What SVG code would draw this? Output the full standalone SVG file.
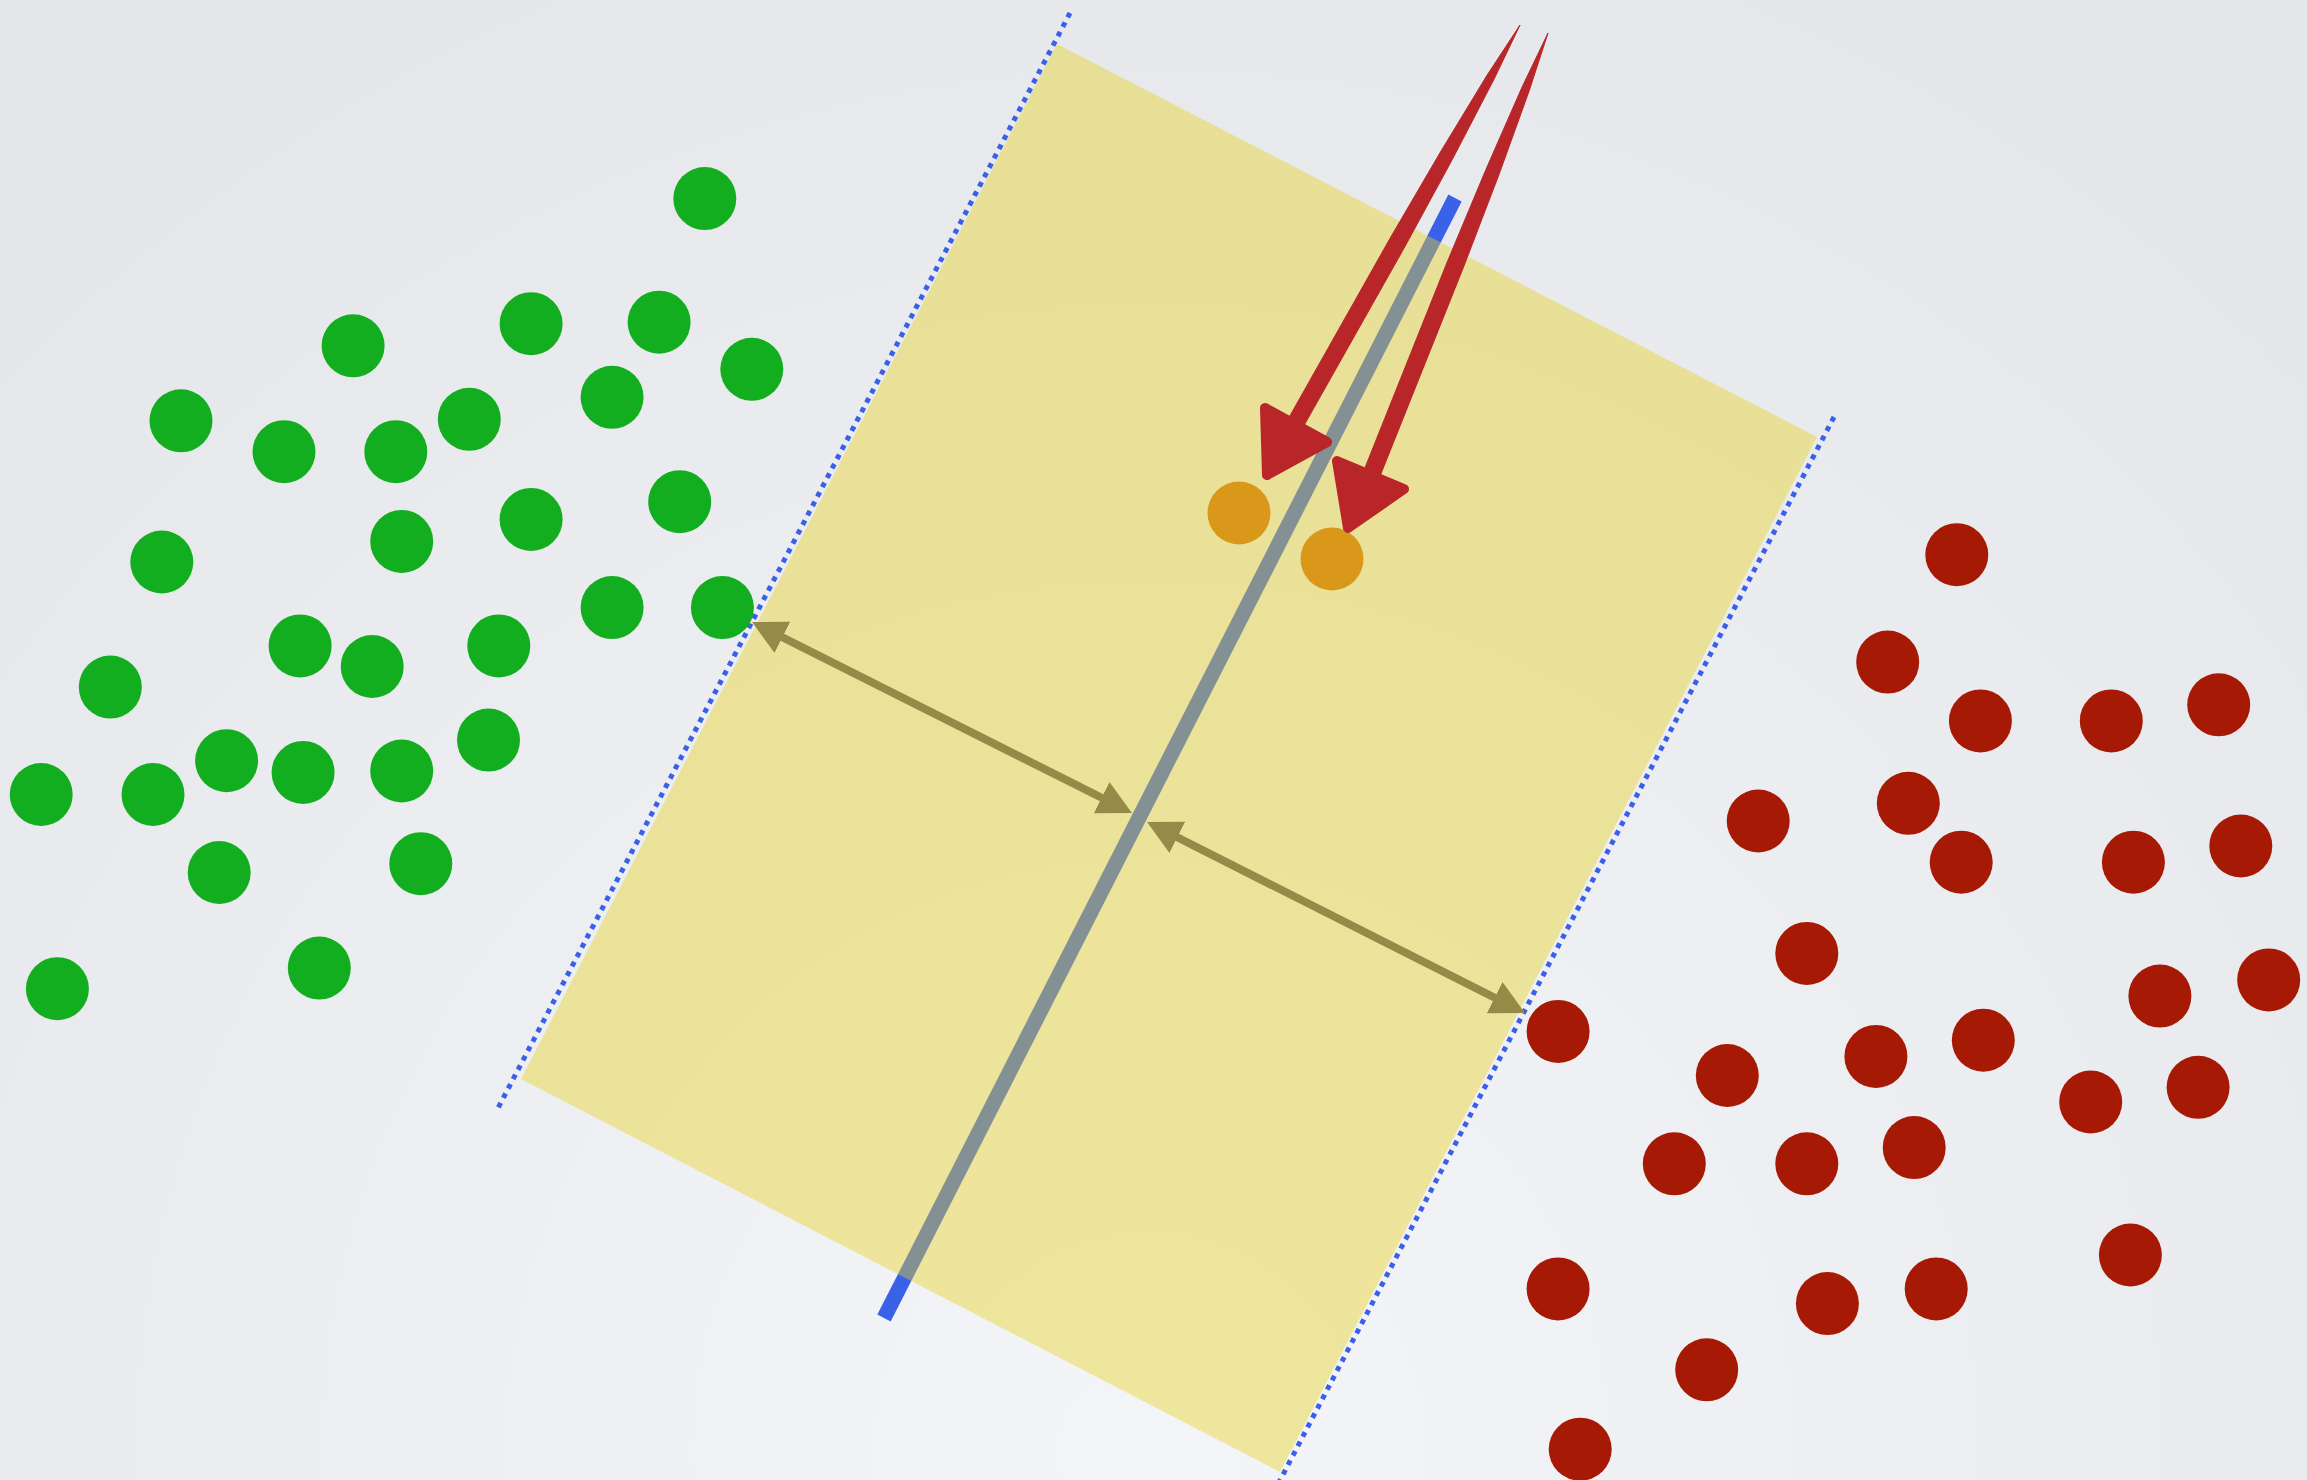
<svg xmlns="http://www.w3.org/2000/svg" width="2307" height="1480" viewBox="0 0 2307 1480">
<defs>
<radialGradient id="bg" cx="1150" cy="1450" r="1700" gradientUnits="userSpaceOnUse">
<stop offset="0" stop-color="#f4f5f8"/>
<stop offset="1" stop-color="#e4e6e9"/>
</radialGradient>
<marker id="olive" viewBox="0 0 34 35" refX="14" refY="17.5" markerWidth="34" markerHeight="35" markerUnits="userSpaceOnUse" orient="auto-start-reverse">
<path d="M0,0 L34,17.5 L0,35 Z" fill="#968a48"/>
</marker>
<style>
.g{fill:#13ae1f}
.r{fill:#a61a05}
.o{fill:#d9981a}
.dot{fill:none;stroke:#3a60e8;stroke-width:5;stroke-dasharray:5 5.6}
.dist{fill:none;stroke:#968a48;stroke-width:8;marker-start:url(#olive);marker-end:url(#olive)}
.red{fill:#b8262a;stroke:#b8262a;stroke-linejoin:round}
</style>
</defs>
<rect width="2307" height="1480" fill="url(#bg)"/>
<g id="hyperplane">
<line x1="1455" y1="198" x2="884" y2="1318" stroke="#3a62e8" stroke-width="15"/>
</g>
<g id="margin">
<polygon points="1057,44 1817,437 1280,1472 521,1079" fill="#e9d222" fill-opacity="0.42"/>
</g>
<g id="support-lines">
<line class="dot" x1="1070" y1="13" x2="497" y2="1110"/>
<line class="dot" x1="1834" y1="417" x2="1276" y2="1488"/>
</g>
<g id="connectors">
<line class="dist" x1="769.9" y1="631" x2="1114.1" y2="804"/>
<line class="dist" x1="1164.9" y1="831" x2="1507.1" y2="1004"/>
</g>
<g id="green-class">
<circle class="g" cx="704.8" cy="198.6" r="31.5"/>
<circle class="g" cx="353.1" cy="345.8" r="31.5"/>
<circle class="g" cx="531.1" cy="323.7" r="31.5"/>
<circle class="g" cx="659.1" cy="322.2" r="31.5"/>
<circle class="g" cx="751.8" cy="369.3" r="31.5"/>
<circle class="g" cx="181" cy="420.8" r="31.5"/>
<circle class="g" cx="284" cy="451.7" r="31.5"/>
<circle class="g" cx="395.8" cy="451.7" r="31.5"/>
<circle class="g" cx="469.3" cy="419.3" r="31.5"/>
<circle class="g" cx="612.1" cy="397.3" r="31.5"/>
<circle class="g" cx="161.8" cy="562" r="31.5"/>
<circle class="g" cx="401.7" cy="541.4" r="31.5"/>
<circle class="g" cx="531.1" cy="519.4" r="31.5"/>
<circle class="g" cx="679.7" cy="501.7" r="31.5"/>
<circle class="g" cx="612.1" cy="607.6" r="31.5"/>
<circle class="g" cx="722.4" cy="607.6" r="31.5"/>
<circle class="g" cx="110.3" cy="687.1" r="31.5"/>
<circle class="g" cx="300.1" cy="645.9" r="31.5"/>
<circle class="g" cx="372.2" cy="666.5" r="31.5"/>
<circle class="g" cx="498.8" cy="645.9" r="31.5"/>
<circle class="g" cx="41.2" cy="794.5" r="31.5"/>
<circle class="g" cx="153" cy="794.5" r="31.5"/>
<circle class="g" cx="226.6" cy="760.7" r="31.5"/>
<circle class="g" cx="303.1" cy="772.4" r="31.5"/>
<circle class="g" cx="401.7" cy="771" r="31.5"/>
<circle class="g" cx="488.5" cy="740.1" r="31.5"/>
<circle class="g" cx="219.2" cy="872.5" r="31.5"/>
<circle class="g" cx="420.8" cy="863.7" r="31.5"/>
<circle class="g" cx="57.4" cy="988.7" r="31.5"/>
<circle class="g" cx="319.3" cy="968.1" r="31.5"/>
</g>
<g id="red-class">
<circle class="r" cx="1956.8" cy="554.7" r="31.5"/>
<circle class="r" cx="1887.7" cy="662.1" r="31.5"/>
<circle class="r" cx="1980.4" cy="720.9" r="31.5"/>
<circle class="r" cx="2111.3" cy="720.9" r="31.5"/>
<circle class="r" cx="2218.7" cy="704.8" r="31.5"/>
<circle class="r" cx="1758.2" cy="821" r="31.5"/>
<circle class="r" cx="1908.3" cy="803.3" r="31.5"/>
<circle class="r" cx="1961.2" cy="862.2" r="31.5"/>
<circle class="r" cx="2133.4" cy="862.2" r="31.5"/>
<circle class="r" cx="2240.8" cy="846" r="31.5"/>
<circle class="r" cx="1806.8" cy="953.4" r="31.5"/>
<circle class="r" cx="1558.1" cy="1031.4" r="31.5"/>
<circle class="r" cx="2159.9" cy="996.1" r="31.5"/>
<circle class="r" cx="2268.7" cy="979.9" r="31.5"/>
<circle class="r" cx="1727.3" cy="1075.5" r="31.5"/>
<circle class="r" cx="1875.9" cy="1056.4" r="31.5"/>
<circle class="r" cx="1983.3" cy="1040.2" r="31.5"/>
<circle class="r" cx="2090.7" cy="1102" r="31.5"/>
<circle class="r" cx="2198.1" cy="1087.3" r="31.5"/>
<circle class="r" cx="1674.3" cy="1163.8" r="31.5"/>
<circle class="r" cx="1806.8" cy="1163.8" r="31.5"/>
<circle class="r" cx="1914.2" cy="1147.6" r="31.5"/>
<circle class="r" cx="1558.1" cy="1288.9" r="31.5"/>
<circle class="r" cx="1827.4" cy="1303.6" r="31.5"/>
<circle class="r" cx="1936.2" cy="1288.9" r="31.5"/>
<circle class="r" cx="2130.4" cy="1255" r="31.5"/>
<circle class="r" cx="1706.7" cy="1369.8" r="31.5"/>
<circle class="r" cx="1580.2" cy="1449.2" r="31.5"/>
</g>
<g id="new-points">
<circle class="o" cx="1239" cy="513" r="31.5"/>
<circle class="o" cx="1332" cy="559" r="31.5"/>
</g>
<g id="red-arrows">
<path class="red" stroke-width="1" d="M1520,25 L1494,79.3 L1452.5,159.1 L1404.7,247 L1296.6,438.6 L1281.8,430.2 L1389.9,238.6 L1440.3,152.3 L1487,75.3 Z"/>
<polygon class="red" stroke-width="10" points="1265,408 1327,442 1267,475"/>
<path class="red" stroke-width="1" d="M1548,33 L1529.4,90.2 L1498.9,174.8 L1463.1,268.2 L1374.1,490.9 L1358.3,484.5 L1447.3,261.8 L1485.9,169.6 L1522,87.2 Z"/>
<polygon class="red" stroke-width="10" points="1337,461 1404,489 1348,528"/>
</g>
</svg>
